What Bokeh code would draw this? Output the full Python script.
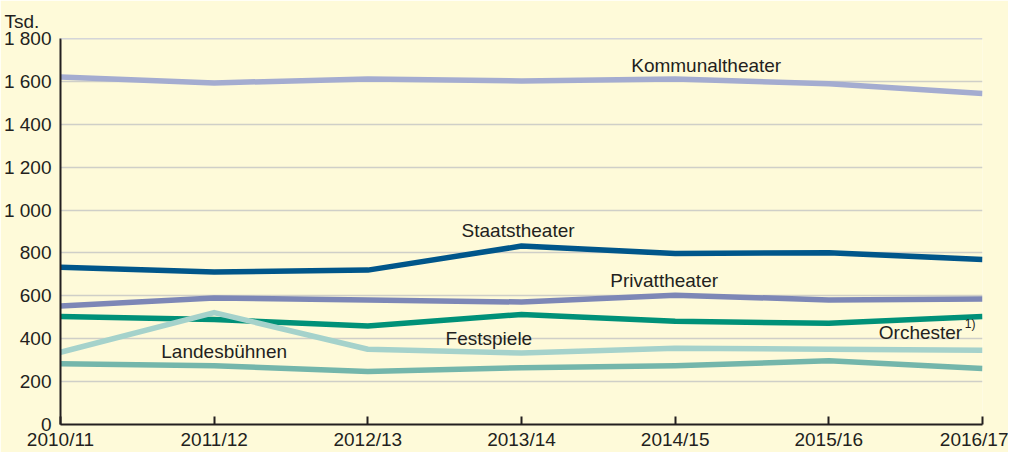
from bokeh.plotting import figure
from bokeh.models import FixedTicker, Range1d, Span, Title
from bokeh.core.properties import value
from bokeh.embed import file_html
from bokeh.resources import INLINE

# ---- data ----
seasons = ["2010/11", "2011/12", "2012/13", "2013/14", "2014/15", "2015/16", "2016/17"]
kommunaltheater = [1620, 1593, 1611, 1602, 1611, 1589, 1544]
staatstheater = [733, 711, 720, 832, 797, 801, 770]
privattheater = [553, 590, 581, 571, 603, 581, 585]
orchester = [504, 490, 459, 513, 481, 472, 504]
festspiele = [337, 522, 351, 333, 355, 351, 346]
landesbuehnen = [283, 274, 247, 265, 274, 297, 261]
y_ticks = [0, 200, 400, 600, 800, 1000, 1200, 1400, 1600, 1800]
y_tick_labels = ["0", "200", "400", "600", "800", "1 000", "1 200", "1 400", "1 600", "1 800"]

FONT = "Liberation Sans"
FS = "19px"
BG = "#fefad9"
TXT = "#231f20"

x = list(range(len(seasons)))

p = figure(width=1008, height=452, output_backend="svg", toolbar_location=None,
           x_range=Range1d(0, len(seasons) - 1), y_range=Range1d(0, 1800),
           min_border_left=60, min_border_right=26, min_border_top=38, min_border_bottom=0,
           background_fill_color=BG, border_fill_color=BG, outline_line_color=None)

p.add_layout(Title(text="Tsd.", align="left", offset=-56, text_font=FONT,
                   text_font_size=FS, text_font_style="normal", text_color=TXT,
                   standoff=14), "above")

series = [
    (kommunaltheater, "#a4acd0"),
    (staatstheater, "#00568a"),
    (privattheater, "#7d87b6"),
    (orchester, "#009178"),
    (festspiele, "#a5d2cb"),
    (landesbuehnen, "#74b6ab"),
]
for vals, col in series:
    p.line(x, vals, line_color=col, line_width=5.5, line_join="round")

# grid
p.xgrid.visible = False
p.ygrid.ticker = FixedTicker(ticks=y_ticks[1:-1])
p.ygrid.grid_line_color = "#cfcfc8"
p.ygrid.grid_line_width = 1.5
p.add_layout(Span(location=1800, dimension="width", line_color="#a9afd0", line_width=1.5))

# axes
p.xaxis.ticker = FixedTicker(ticks=x)
p.xaxis.major_label_overrides = {i: s for i, s in enumerate(seasons)}
p.xaxis.major_tick_in = 8
p.xaxis.major_tick_out = 0
p.xaxis.minor_tick_line_color = None
p.xaxis.axis_line_width = 2
p.xaxis.major_tick_line_width = 2
p.xaxis.major_label_standoff = 4

p.yaxis.ticker = FixedTicker(ticks=y_ticks)
p.yaxis.major_label_overrides = {v: s for v, s in zip(y_ticks, y_tick_labels)}
p.yaxis.major_tick_in = 0
p.yaxis.major_tick_out = 0
p.yaxis.minor_tick_line_color = None
p.yaxis.axis_line_width = 2
p.yaxis.major_label_standoff = 9

for ax in (p.xaxis[0], p.yaxis[0]):
    ax.axis_line_color = TXT
    ax.major_tick_line_color = TXT
    ax.major_label_text_font = FONT
    ax.major_label_text_font_size = FS
    ax.major_label_text_color = TXT

# series labels
label_text = ["Kommunaltheater", "Staatstheater", "Privattheater", "Festspiele", "Landesbühnen", "Orchester"]
label_x = [3.714, 2.61, 3.578, 2.506, 0.656, 5.325]
label_y = [1674, 905, 670, 400, 342, 427]
p.text(label_x, label_y, text=label_text, text_font=value(FONT), text_font_size=FS,
       text_color=TXT, text_align="left", text_baseline="middle")
p.text([5.885], [470], text=["1)"], text_font=value(FONT), text_font_size="12px",
       text_color=TXT, text_align="left", text_baseline="middle")

open("out.html", "w").write(file_html(p, INLINE))
